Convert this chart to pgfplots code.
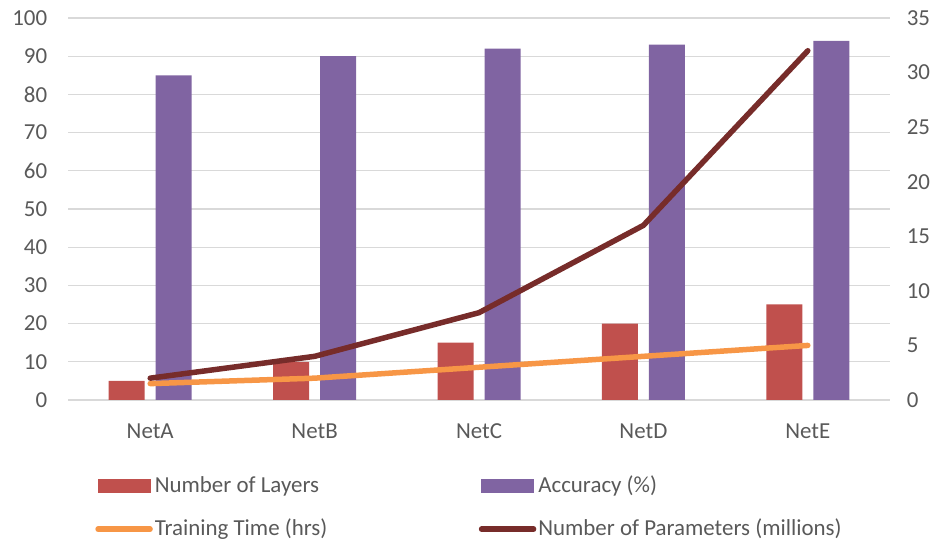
\documentclass[border=0pt]{standalone}
\usepackage{fontspec}
\setmainfont{Carlito}
\usepackage{pgfplots}
\pgfplotsset{compat=1.18}
\definecolor{cLayers}{HTML}{C0504D}
\definecolor{cAcc}{HTML}{8064A2}
\definecolor{cTime}{HTML}{F79646}
\definecolor{cParams}{HTML}{772C2A}
\definecolor{textgray}{HTML}{595959}
\definecolor{gridgray}{HTML}{D9D9D9}
\begin{document}
\fontsize{23}{27}\selectfont
\begin{tikzpicture}
\useasboundingbox (0,0) rectangle (941bp,544bp);
\pgfplotsset{
  base/.style={
    at={(68bp,144bp)}, anchor=south west,
    scale only axis, width=822bp, height=382bp,
    xmin=-0.5, xmax=4.5, ymin=0,
    axis line style={draw=none},
    major tick length=0pt,
    tick label style={font=\fontsize{23}{27}\selectfont, text=textgray},
    /pgf/number format/assume math mode=true,
  }
}
\begin{axis}[base,
  ymax=100, ytick={0,10,...,100},
  ymajorgrids, grid style={color=gridgray, line width=1.3bp},
  xtick={0,1,2,3,4}, xticklabels={NetA,NetB,NetC,NetD,NetE},
  xticklabel style={yshift=-16bp},
  yticklabel style={xshift=-13bp},
  ybar, bar width=36bp,
]
\addplot[fill=cLayers, draw=none, bar shift=-23.5bp] coordinates {(0,5) (1,10) (2,15) (3,20) (4,25)};
\addplot[fill=cAcc, draw=none, bar shift=23.5bp] coordinates {(0,85) (1,90) (2,92) (3,93) (4,94)};
\end{axis}
\begin{axis}[base,
  ymax=35, ytick={0,5,...,35},
  axis x line=none, axis y line*=right,
  yticklabel style={xshift=9bp},
  legend columns=2,
  legend style={draw=none, fill=none, at={(0.033,-0.193)}, anchor=north west,
    font=\fontsize{23}{27}\selectfont, text=textgray,
    row sep=19bp, column sep=0pt, inner sep=0pt},
  legend cell align=left,
]
\addlegendimage{legend image code/.code={\fill[cLayers] (0bp,-6.5bp) rectangle (52bp,6.5bp);}}
\addlegendentry{\makebox[322bp][l]{Number of Layers}}
\addlegendimage{legend image code/.code={\fill[cAcc] (0bp,-6.5bp) rectangle (52bp,6.5bp);}}
\addlegendentry{Accuracy (\%)}
\addplot[cTime, line width=5.5bp, line cap=round, legend image code/.code={\draw[cTime, line width=5.5bp, line cap=round] (0bp,0) -- (52bp,0);}] coordinates {(0,1.5) (1,2) (2,3) (3,4) (4,5)};
\addlegendentry{\makebox[322bp][l]{Training Time (hrs)}}
\addplot[cParams, line width=5.5bp, line cap=round, legend image code/.code={\draw[cParams, line width=5.5bp, line cap=round] (0bp,0) -- (52bp,0);}] coordinates {(0,2) (1,4) (2,8) (3,16) (4,32)};
\addlegendentry{Number of Parameters (millions)}
\end{axis}
\end{tikzpicture}
\end{document}
